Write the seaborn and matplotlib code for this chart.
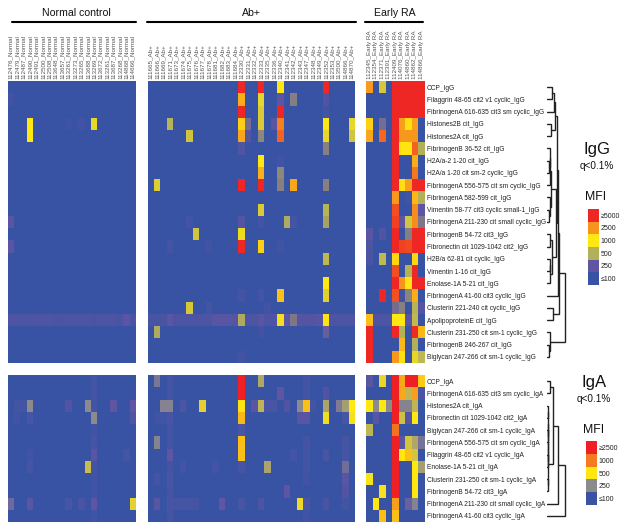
import numpy as np
import pandas as pd
import matplotlib
matplotlib.use('Agg')
import matplotlib.pyplot as plt
import seaborn as sns
from matplotlib.colors import LinearSegmentedColormap, LogNorm
from matplotlib.lines import Line2D

sns.set_theme(style='white')
plt.rcParams['font.family'] = ['Liberation Sans', 'DejaVu Sans']

# sample ids
normal_ids = ['112476', '112479', '112487', '112490', '112491', '112500', '112508', '113648', '113657', '113261',
              '113273', '113265', '113688', '113269', '113672', '113261', '113687', '113268', '114868', '114666']
abpos_ids = ['111665', '111666', '111669', '111671', '111673', '111674', '111675', '111676', '111677', '111678',
             '111681', '111682', '111683', '111684', '112330', '112331', '112332', '112333', '112335', '112336',
             '112340', '112341', '112342', '112343', '112347', '112348', '112349', '112352', '112353', '113500',
             '114866', '114870']
ra_ids = ['112345', '112354', '112371', '112391', '112409', '114076', '114860', '114862', '114866']

igg_rows = ['CCP_IgG', 'Filaggrin 48-65 cit2 v1 cyclic_IgG', 'FibrinogenA 616-635 cit3 sm cyclic_IgG',
            'Histones2B cit_IgG', 'Histones2A cit_IgG', 'FibrinogenB 36-52 cit_IgG', 'H2A/a-2 1-20 cit_IgG',
            'H2A/a 1-20 cit sm-2 cyclic_IgG', 'FibrinogenA 556-575 cit sm cyclic_IgG', 'FibrinogenA 582-599 cit_IgG',
            'Vimentin 58-77 cit3 cyclic small-1_IgG', 'FibrinogenA 211-230 cit small cyclic_IgG',
            'FibrinogenB 54-72 cit3_IgG', 'Fibronectin cit 1029-1042 cit2_IgG', 'H2B/a 62-81 cit cyclic_IgG',
            'Vimentin 1-16 cit_IgG', 'Enolase-1A 5-21 cit_IgG', 'FibrinogenA 41-60 cit3 cyclic_IgG',
            'Clusterin 221-240 cit cyclic_IgG', 'ApolipoproteinE cit_IgG', 'Clusterin 231-250 cit sm-1 cyclic_IgG',
            'FibrinogenB 246-267 cit_IgG', 'Biglycan 247-266 cit sm-1 cyclic_IgG']
iga_rows = ['CCP_IgA', 'FibrinogenA 616-635 cit3 sm cyclic_IgA', 'Histones2A cit_IgA',
            'Fibronectin cit 1029-1042 cit2_IgA', 'Biglycan 247-266 cit sm-1 cyclic_IgA',
            'FibrinogenA 556-575 cit sm cyclic_IgA', 'Filaggrin 48-65 cit2 v1 cyclic_IgA', 'Enolase-1A 5-21 cit_IgA',
            'Clusterin 231-250 cit sm-1 cyclic_IgA', 'FibrinogenB 54-72 cit3_IgA',
            'FibrinogenA 211-230 cit small cyclic_IgA', 'FibrinogenA 41-60 cit3 cyclic_IgA']

# MFI. Rows only list the cells above background (column index: MFI)
igg_normal = [
    {}, {0: 125}, {}, {3: 1000, 9: 118, 11: 125, 13: 800}, {3: 1000}, {}, {}, {}, {}, {}, {}, {0: 215}, {}, {0: 215},
    {}, {}, {}, {}, {},
    {0: 165, 1: 165, 2: 165, 3: 165, 4: 165, 5: 165, 6: 175, 7: 150, 8: 165, 9: 165, 10: 165, 11: 165, 12: 165,
     13: 150, 14: 165, 15: 165, 16: 165, 17: 150, 18: 220, 19: 150},
    {}, {}, {},
]
igg_abpos = [
    {14: 5000, 17: 5000, 20: 1000, 27: 5000},
    {14: 1900, 17: 800, 20: 240, 22: 340, 27: 170},
    {14: 5000, 17: 700, 20: 5000, 27: 130},
    {3: 520, 14: 1300, 15: 300, 17: 700, 19: 220, 20: 2800, 27: 1000, 31: 800},
    {6: 640, 14: 2000, 15: 190, 17: 370, 20: 3400, 27: 800, 31: 650},
    {14: 170, 27: 350},
    {17: 1000, 20: 125},
    {17: 1800, 20: 370},
    {1: 720, 14: 5000, 17: 5000, 20: 350, 22: 2000, 27: 350},
    {},
    {17: 700, 27: 520},
    {6: 130, 14: 190, 17: 130, 21: 480, 22: 130, 27: 450},
    {7: 650, 14: 850},
    {3: 130, 9: 125, 14: 5000, 17: 1300, 20: 125},
    {27: 550}, {},
    {27: 1000},
    {14: 130, 17: 130, 20: 1500, 27: 750},
    {6: 680, 9: 130, 18: 125},
    {0: 140, 1: 140, 2: 145, 3: 230, 4: 165, 5: 165, 6: 165, 7: 165, 8: 165, 9: 165, 10: 210, 11: 210, 12: 210,
     13: 200, 14: 480, 15: 165, 16: 165, 17: 220, 18: 165, 19: 165, 20: 900, 21: 240, 22: 320, 23: 190, 24: 190,
     25: 190, 26: 220, 27: 1050, 28: 165, 29: 165, 30: 165, 31: 165},
    {1: 480, 17: 125, 27: 270},
    {}, {14: 125},
]
igg_ra = [
    [2300, 100, 680, 100, 5000, 5000, 5000, 5000, 5000],
    [100, 100, 100, 100, 5000, 5000, 5000, 5000, 5000],
    [100, 100, 100, 100, 5000, 5000, 5000, 5000, 5000],
    [1300, 100, 300, 100, 5000, 2200, 1100, 2200, 100],
    [2000, 100, 3300, 100, 5000, 2400, 2400, 2400, 100],
    [100, 100, 100, 100, 5000, 1050, 1050, 3400, 500],
    [100, 100, 100, 100, 5000, 100, 100, 1900, 100],
    [100, 100, 100, 100, 5000, 100, 100, 3000, 100],
    [100, 100, 100, 100, 5000, 1100, 2200, 5000, 5000],
    [100, 100, 100, 100, 2400, 100, 120, 1700, 500],
    [100, 100, 100, 100, 3900, 100, 100, 2600, 230],
    [100, 100, 100, 100, 4200, 240, 650, 2600, 320],
    [220, 100, 170, 100, 5000, 100, 340, 5000, 5000],
    [160, 100, 100, 100, 5000, 4200, 4000, 5000, 5000],
    [150, 100, 560, 100, 1200, 100, 100, 1200, 100],
    [100, 100, 100, 100, 3900, 100, 500, 5000, 100],
    [100, 100, 100, 100, 5000, 2500, 1050, 5000, 5000],
    [100, 100, 5000, 100, 3800, 120, 360, 1900, 100],
    [100, 100, 100, 100, 300, 350, 100, 520, 190],
    [1600, 165, 165, 165, 1000, 1000, 240, 560, 100],
    [5000, 100, 100, 100, 5000, 500, 100, 4800, 1700],
    [5000, 100, 100, 100, 100, 1700, 100, 500, 100],
    [5000, 100, 100, 100, 2400, 1100, 100, 800, 550],
]

iga_normal = [
    {13: 118}, {13: 118},
    {1: 118, 2: 118, 3: 250, 9: 155, 12: 250, 13: 118, 16: 190, 19: 190},
    {1: 112, 3: 130, 13: 250, 19: 150},
    {13: 115}, {13: 125},
    {3: 112, 13: 175, 18: 125},
    {3: 125, 12: 360, 13: 118},
    {13: 112}, {13: 112},
    {0: 210, 3: 170, 9: 130, 11: 135, 13: 185, 19: 420},
    {13: 112},
]
iga_abpos = [
    {1: 225, 3: 118, 14: 2500, 17: 310, 24: 118},
    {3: 118, 14: 2500, 20: 190, 24: 118, 27: 150},
    {2: 240, 3: 240, 5: 140, 8: 420, 14: 520, 16: 170, 17: 340, 18: 135, 19: 135, 21: 155, 23: 250, 24: 650,
     25: 118, 27: 300, 29: 230, 30: 290, 31: 500},
    {1: 112, 2: 112, 3: 135, 14: 680, 23: 170, 24: 170, 27: 460, 30: 130, 31: 470},
    {3: 118, 14: 130},
    {1: 240, 3: 118, 14: 650, 24: 118, 30: 125},
    {3: 190, 14: 650, 22: 118, 24: 118, 27: 130, 30: 125},
    {3: 118, 5: 118, 10: 118, 14: 125, 18: 300, 24: 118, 30: 215},
    {1: 118, 3: 135, 24: 112, 30: 170},
    {3: 125, 21: 185, 30: 155},
    {1: 170, 3: 130, 4: 125, 5: 125, 6: 125, 7: 125, 11: 190, 14: 130, 17: 140, 23: 450, 24: 135, 27: 135, 30: 120},
    {3: 125, 24: 112},
]
iga_ra = [
    [170, 100, 440, 100, 2500, 750, 2500, 2500, 600],
    [100, 100, 100, 100, 2500, 750, 340, 800, 130],
    [500, 250, 500, 250, 2500, 240, 240, 340, 100],
    [100, 170, 100, 100, 2500, 370, 170, 500, 100],
    [340, 100, 100, 100, 1100, 100, 100, 100, 100],
    [100, 100, 100, 100, 2500, 170, 380, 310, 220],
    [100, 100, 100, 100, 2500, 500, 650, 380, 100],
    [100, 100, 100, 100, 2500, 100, 100, 500, 290],
    [480, 100, 100, 100, 2500, 100, 100, 500, 100],
    [100, 100, 480, 100, 2500, 100, 100, 500, 100],
    [100, 500, 100, 100, 800, 100, 200, 240, 100],
    [100, 100, 650, 100, 650, 100, 100, 100, 100],
]

igg_stops = [100, 250, 500, 1000, 2500, 5000]
igg_colors = ['#3953A4', '#5F55A3', '#B3B05A', '#FFE811', '#F7941D', '#EE2724']
iga_stops = [100, 190, 250, 500, 1000, 2500]
iga_colors = ['#3953A4', '#5F55A3', '#8C8C8C', '#FFE811', '#F47C20', '#EE2024']
igg_legend = ['≥5000', '2500', '1000', '500', '250', '≤100']
iga_legend = ['≥2500', '1000', '500', '250', '≤100']

# dendrograms as (height, left, right), leaves are row numbers
igg_tree = (18,
            (11.5,
             (11,
              (9.5,
               (7.5, (7, (4.5, 0, 1), 2), (4, 3, 4)),
               (8.5,
                (3.5, (3, (2.5, 5, (2, 6, 7)), 8), (2.5, 9, (2, 10, 11))),
                (4.5, (3, 12, 13), (3, (2.5, 14, 15), 16)))),
              17),
             (6, 18, 19)),
            (3, 20, (2, 21, 22)))
iga_tree = (18,
            (11,
             (6, (3, 0, 1), (1.4, (1.2, (1.0, (0.8, 2, 3), (0.8, 4, 5)), (1.0, 6, 7)), (1.2, 8, 9))),
             10),
            11)


def px(x0, y0, w, h):
    return [x0 / 624, 1 - (y0 + h) / 530, w / 624, h / 530]


def make_cmap(stops, colors):
    pos = np.log(np.array(stops) / stops[0]) / np.log(stops[-1] / stops[0])
    return LinearSegmentedColormap.from_list('mfi', list(zip(pos, colors))), LogNorm(stops[0], stops[-1])


def sparse_frame(rows, n_cols):
    out = np.full((len(rows), n_cols), 100.0)
    for i, r in enumerate(rows):
        for c, v in r.items():
            out[i, c] = v
    return pd.DataFrame(out)


def draw_tree(ax, node):
    if not isinstance(node, tuple):
        return 0, node + 0.5
    h, left, right = node
    h1, y1 = draw_tree(ax, left)
    h2, y2 = draw_tree(ax, right)
    ax.plot([h1, h, h, h2], [y1, y1, y2, y2], color='#222222', lw=1.0, solid_joinstyle='miter')
    return h, (y1 + y2) / 2


fig = plt.figure(figsize=(6.24, 5.30), dpi=100)

igg_cmap, igg_norm = make_cmap(igg_stops, igg_colors)
iga_cmap, iga_norm = make_cmap(iga_stops, iga_colors)

col_x = [(7.5, 128.5), (147.5, 207.5), (366, 58.5)]
col_ids = [[i + '_Normal' for i in normal_ids], [i + '_Ab+' for i in abpos_ids], [i + '_Early RA' for i in ra_ids]]

igg_data = [sparse_frame(igg_normal, 20), sparse_frame(igg_abpos, 32), pd.DataFrame(igg_ra, dtype=float)]
iga_data = [sparse_frame(iga_normal, 20), sparse_frame(iga_abpos, 32), pd.DataFrame(iga_ra, dtype=float)]

for k, (x0, w) in enumerate(col_x):
    # IgG block
    ax = fig.add_axes(px(x0, 81, w, 282))
    sns.heatmap(igg_data[k], ax=ax, cmap=igg_cmap, norm=igg_norm, cbar=False,
                xticklabels=col_ids[k], yticklabels=igg_rows if k == 2 else False)
    ax.xaxis.tick_top()
    ax.tick_params(axis='x', length=0, pad=1.5, labelsize=4.5, labelcolor='#555555', labelrotation=90)
    ax.tick_params(axis='y', length=0, pad=1.5, labelsize=4.8, labelcolor='#222222')
    if k == 2:
        ax.yaxis.tick_right()
        ax.tick_params(axis='y', labelrotation=0, length=0)

    # IgA block
    ax = fig.add_axes(px(x0, 375, w, 147))
    sns.heatmap(iga_data[k], ax=ax, cmap=iga_cmap, norm=iga_norm, cbar=False,
                xticklabels=False, yticklabels=iga_rows if k == 2 else False)
    ax.tick_params(axis='y', length=0, pad=1.5, labelsize=4.8, labelcolor='#222222')
    if k == 2:
        ax.yaxis.tick_right()
        ax.tick_params(axis='y', labelrotation=0, length=0)

# group headers
for name, xc, x1, x2 in [('Normal control', 76, 11.5, 136), ('Ab+', 251, 147, 356), ('Early RA', 395, 365, 423)]:
    fig.text(xc / 624, 1 - 12.5 / 530, name, ha='center', va='center', fontsize=7.6, color='#111111')
    fig.add_artist(Line2D([x1 / 624, x2 / 624], [1 - 21.5 / 530] * 2, color='black', lw=1.5))

# dendrograms
for tree, y0, h, n in [(igg_tree, 81, 282, 23), (iga_tree, 375, 147, 12)]:
    ax = fig.add_axes(px(547, y0, 20, h))
    draw_tree(ax, tree)
    ax.set_xlim(0, 20)
    ax.set_ylim(n, 0)
    ax.axis('off')

# MFI keys
for levels, labels, cmap, norm, box in [(igg_stops[::-1], igg_legend, igg_cmap, igg_norm, (588, 209, 11, 76)),
                                        ([2500, 1000, 500, 250, 100], iga_legend, iga_cmap, iga_norm,
                                         (586, 441, 11, 64))]:
    ax = fig.add_axes(px(*box))
    sns.heatmap(pd.DataFrame({'MFI': levels}), ax=ax, cmap=cmap, norm=norm, cbar=False,
                xticklabels=False, yticklabels=labels)
    ax.yaxis.tick_right()
    ax.tick_params(axis='y', labelrotation=0, length=0, pad=1, labelsize=5.0, labelcolor='#222222')

for txt, x, y, size in [('IgG', 597, 150, 12), ('q<0.1%', 597, 166, 7.2), ('MFI', 596, 197, 8.8),
                        ('IgA', 594, 382, 12), ('q<0.1%', 594, 399, 7.2), ('MFI', 594, 430, 8.8)]:
    fig.text(x / 624, 1 - y / 530, txt, ha='center', va='center', fontsize=size, color='#111111')

fig.savefig('out.png', dpi=100)
